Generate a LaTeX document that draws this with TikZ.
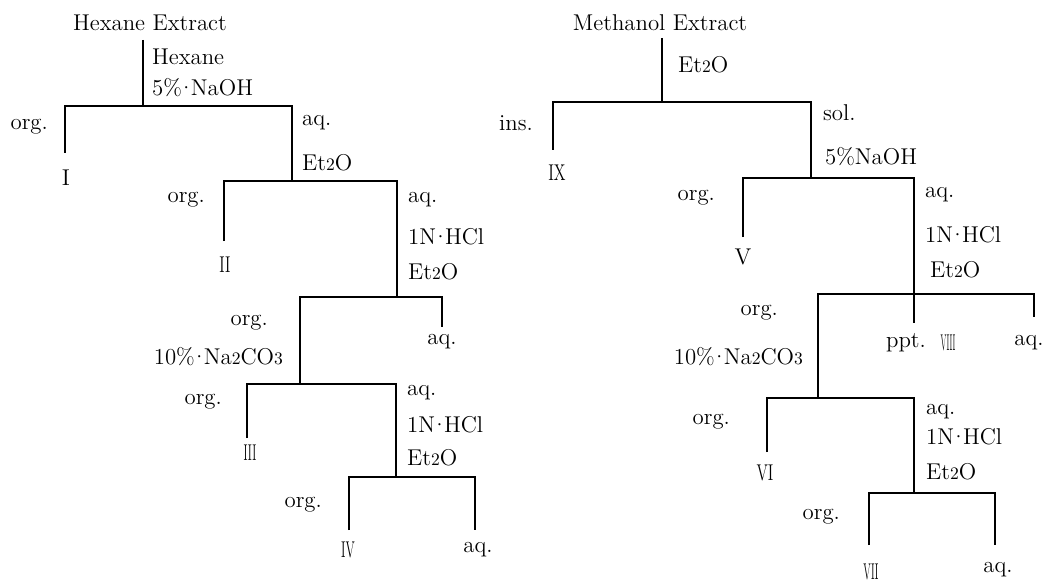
\documentclass[tikz,border=0pt]{standalone}
\usepackage{tikz}
\usepackage{graphicx}
\usetikzlibrary{positioning}
\newcommand{\lbfont}{\fontsize{13}{15}\selectfont}
\newcommand{\subnum}[1]{{\fontsize{10}{12}\selectfont #1}}
\newcommand{\cdt}{\kern-2.4pt\textperiodcentered\kern-2.4pt}
\newcommand{\rnum}[2]{\scalebox{#1}[1]{#2}}

\begin{document}
\begin{tikzpicture}[
    x=0.02cm, y=-0.02cm,
    pipe/.style={line width=1.1pt},
    lbl/.style={font=\lbfont, inner sep=1pt},
    rgt/.style={lbl, anchor=west},
    lft/.style={lbl, anchor=east},
    frac/.style={lbl}
]
\useasboundingbox (0,0) rectangle (1053,584);

% Hexane extract
\node[lbl] (hex) at (150,23) {Hexane Extract};
\coordinate (h0) at (143,40);
\coordinate (h1) at (143,106);
\coordinate (h1a) at (65,106);
\coordinate (h1b) at (292,106);
\coordinate (e1) at (65,153);
\coordinate (h2) at (292,181);
\coordinate (h2a) at (224,181);
\coordinate (h2b) at (397,181);
\coordinate (e2) at (224,241);
\coordinate (h3) at (397,297);
\coordinate (h3a) at (300,297);
\coordinate (h3b) at (442,297);
\coordinate (e3) at (442,327);
\coordinate (h4) at (300,384);
\coordinate (h4a) at (247,384);
\coordinate (h4b) at (396,384);
\coordinate (e4) at (247,438);
\coordinate (h5) at (396,477);
\coordinate (h5a) at (349,477);
\coordinate (h5b) at (475,477);
\coordinate (e5) at (349,530);
\coordinate (e6) at (475,530);

\draw[pipe] (h0) -- (h1);
\draw[pipe] (e1) -- (h1a) -- (h1b) -- (h2);
\draw[pipe] (e2) -- (h2a) -- (h2b) -- (h3);
\draw[pipe] (h4) -- (h3a) -- (h3b) -- (e3);
\draw[pipe] (e4) -- (h4a) -- (h4b) -- (h5);
\draw[pipe] (e5) -- (h5a) -- (h5b) -- (e6);

\node[rgt] (hx1) at (150,57) {Hexane};
\node[rgt] (hx2) at (150,88) {5\%\cdt NaOH};
\node[lft] (ho1) at (50,127) {org.};
\node[rgt] (ha1) at (300,123) {aq.};
\node[rgt] (hs1) at (300,163) {Et\subnum{2}O};
\node[frac] (f1) at (66,178) {I};

\node[lft] (ho2) at (207,200) {org.};
\node[rgt] (ha2) at (406,200) {aq.};
\node[rgt] (hc2) at (406,237) {1N\cdt HCl};
\node[rgt] (hs2) at (406,272) {Et\subnum{2}O};
\node[frac] (f2) at (225,265) {\rnum{0.66}{II}};

\node[lft] (ho3) at (270,323) {org.};
\node[lft] (hn3) at (285,357) {10\%\cdt Na\subnum{2}CO\subnum{3}};
\node[frac] (ha3) at (442,342) {aq.};

\node[lft] (ho4) at (224,402) {org.};
\node[rgt] (ha4) at (405,393) {aq.};
\node[rgt] (hc4) at (405,425) {1N\cdt HCl};
\node[rgt] (hs4) at (405,458) {Et\subnum{2}O};
\node[frac] (f3) at (250,453) {\rnum{0.5}{III}};

\node[lft] (ho5) at (324,505) {org.};
\node[frac] (f4) at (348,550) {\rnum{0.55}{IV}};
\node[frac] (ha5) at (478,550) {aq.};

% Methanol extract
\node[lbl] (meth) at (660,23) {Methanol Extract};
\coordinate (m0) at (662,38);
\coordinate (m1) at (662,102);
\coordinate (m1a) at (553,102);
\coordinate (m1b) at (811,102);
\coordinate (g1) at (553,150);
\coordinate (m2) at (811,178);
\coordinate (m2a) at (743,178);
\coordinate (m2b) at (914,178);
\coordinate (g2) at (743,237);
\coordinate (m3) at (914,294);
\coordinate (m3a) at (818,294);
\coordinate (m3b) at (1034,294);
\coordinate (g3) at (914,323);
\coordinate (g4) at (1034,317);
\coordinate (m4) at (818,398);
\coordinate (m4a) at (767,398);
\coordinate (m4b) at (914,398);
\coordinate (g5) at (767,452);
\coordinate (m5) at (914,493);
\coordinate (m5a) at (869,493);
\coordinate (m5b) at (995,493);
\coordinate (g6) at (869,545);
\coordinate (g7) at (995,545);

\draw[pipe] (m0) -- (m1);
\draw[pipe] (g1) -- (m1a) -- (m1b) -- (m2);
\draw[pipe] (g2) -- (m2a) -- (m2b) -- (m3);
\draw[pipe] (m4) -- (m3a) -- (m3b) -- (g4);
\draw[pipe] (m3) -- (g3);
\draw[pipe] (g5) -- (m4a) -- (m4b) -- (m5);
\draw[pipe] (g6) -- (m5a) -- (m5b) -- (g7);

\node[rgt] (ms0) at (676,65) {Et\subnum{2}O};
\node[lft] (mi1) at (535,123) {ins.};
\node[frac] (f9) at (557,173) {\rnum{0.7}{IX}};
\node[rgt] (ml1) at (821,113) {sol.};
\node[rgt] (mx1) at (823,157) {5\%NaOH};

\node[lft] (mo2) at (717,198) {org.};
\node[frac] (f5) at (743,257) {V};
\node[rgt] (ma2) at (923,195) {aq.};
\node[rgt] (mc2) at (923,235) {1N\cdt HCl};
\node[rgt] (ms2) at (928,270) {Et\subnum{2}O};

\node[lft] (mo3) at (780,313) {org.};
\node[lft] (mn3) at (805,357) {10\%\cdt Na\subnum{2}CO\subnum{3}};
\node[frac] (mp3) at (906,343) {ppt.};
\node[frac] (f8) at (948,343) {\rnum{0.35}{VIII}};
\node[frac] (ma3) at (1029,343) {aq.};

\node[lft] (mo4) at (732,422) {org.};
\node[frac] (f6) at (765,473) {\rnum{0.68}{VI}};
\node[rgt] (ma4) at (924,412) {aq.};
\node[rgt] (mc4) at (924,437) {1N\cdt HCl};
\node[rgt] (ms4) at (924,472) {Et\subnum{2}O};

\node[lft] (mo5) at (842,517) {org.};
\node[frac] (f7) at (871,572) {\rnum{0.45}{VII}};
\node[frac] (ma5) at (998,570) {aq.};

\end{tikzpicture}
\end{document}
